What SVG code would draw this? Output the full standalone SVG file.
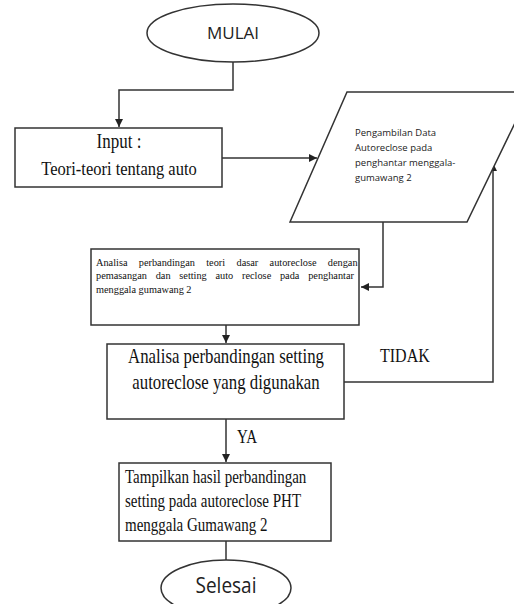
<svg xmlns="http://www.w3.org/2000/svg" width="514" height="604" viewBox="0 0 514 604">
<defs>
<marker id="ah" viewBox="0 0 10 10" refX="10" refY="5" markerWidth="8" markerHeight="8" markerUnits="userSpaceOnUse" orient="auto">
<path d="M0,0 L10,5 L0,10 z" fill="#222"/>
</marker>
<style>
.shape{fill:#fff;stroke:#333;stroke-width:1.5}
.conn{fill:none;stroke:#333;stroke-width:1.5}
.sans{font-family:"Open Sans","Liberation Sans",sans-serif;fill:#222}
.serif{font-family:"Liberation Serif","DejaVu Serif",serif;fill:#111}
</style>
</defs>
<rect width="514" height="604" fill="#fff"/>
<g id="connectors">
<path class="conn" d="M233,62 V90 H119 V127" marker-end="url(#ah)"/>
<path class="conn" d="M222,158 H317" marker-end="url(#ah)"/>
<path class="conn" d="M383,222 V287 H361" marker-end="url(#ah)"/>
<path class="conn" d="M226,325 V343" marker-end="url(#ah)"/>
<path class="conn" d="M344,382 H493 V163" marker-end="url(#ah)"/>
<path class="conn" d="M226,419 V462" marker-end="url(#ah)"/>
<path class="conn" d="M226,541 V560"/>
<text class="serif" transform="translate(380,362) scale(1,1.2)" font-size="16">TIDAK</text>
<text class="serif" transform="translate(237,443) scale(1,1.2)" font-size="15">YA</text>
</g>
<g id="mulai">
<ellipse class="shape" cx="233" cy="33" rx="86" ry="29"/>
<text class="sans" x="233" y="39" font-size="17" text-anchor="middle">MULAI</text>
</g>
<g id="input">
<rect class="shape" x="15" y="128" width="207" height="59"/>
<text class="serif" transform="translate(119,148) scale(1,1.2)" font-size="17" text-anchor="middle">Input :</text>
<text class="serif" transform="translate(119,175) scale(1,1.2)" font-size="16.5" text-anchor="middle">Teori-teori tentang auto</text>
</g>
<g id="pengambilan">
<polygon class="shape" points="347,92 530,92 467,222 290,222"/>
<text class="sans" font-size="9.5">
<tspan x="355" y="136">Pengambilan Data</tspan>
<tspan x="355" y="151">Autoreclose pada</tspan>
<tspan x="355" y="166">penghantar menggala-</tspan>
<tspan x="355" y="181">gumawang 2</tspan>
</text>
</g>
<g id="analisa-teori">
<rect class="shape" x="91" y="249" width="268" height="76"/>
<text class="serif" font-size="10.3">
<tspan x="96" y="266" word-spacing="8.8">Analisa perbandingan teori dasar autoreclose dengan</tspan>
<tspan x="96" y="279" word-spacing="6.2">pemasangan dan setting auto reclose pada penghantar</tspan>
<tspan x="96" y="293" word-spacing="0">menggala gumawang  2</tspan>
</text>
</g>
<g id="analisa-setting">
<rect class="shape" x="107" y="344" width="237" height="75"/>
<text class="serif" transform="translate(226,363) scale(1,1.2)" font-size="16.8" text-anchor="middle">Analisa perbandingan setting</text>
<text class="serif" transform="translate(226,389) scale(1,1.2)" font-size="16.8" text-anchor="middle">autoreclose yang digunakan</text>
</g>
<g id="tampilkan">
<rect class="shape" x="119" y="463" width="212" height="78"/>
<text class="serif" transform="translate(125,483) scale(1,1.25)" font-size="15">Tampilkan hasil perbandingan</text>
<text class="serif" transform="translate(125,507) scale(1,1.25)" font-size="15">setting pada autoreclose PHT</text>
<text class="serif" transform="translate(125,531) scale(1,1.25)" font-size="15">menggala Gumawang 2</text>
</g>
<g id="selesai">
<ellipse class="shape" cx="226" cy="588" rx="65" ry="28"/>
<text class="sans" transform="translate(226,593) scale(1,1.15)" font-size="19" text-anchor="middle">Selesai</text>
</g>
</svg>
